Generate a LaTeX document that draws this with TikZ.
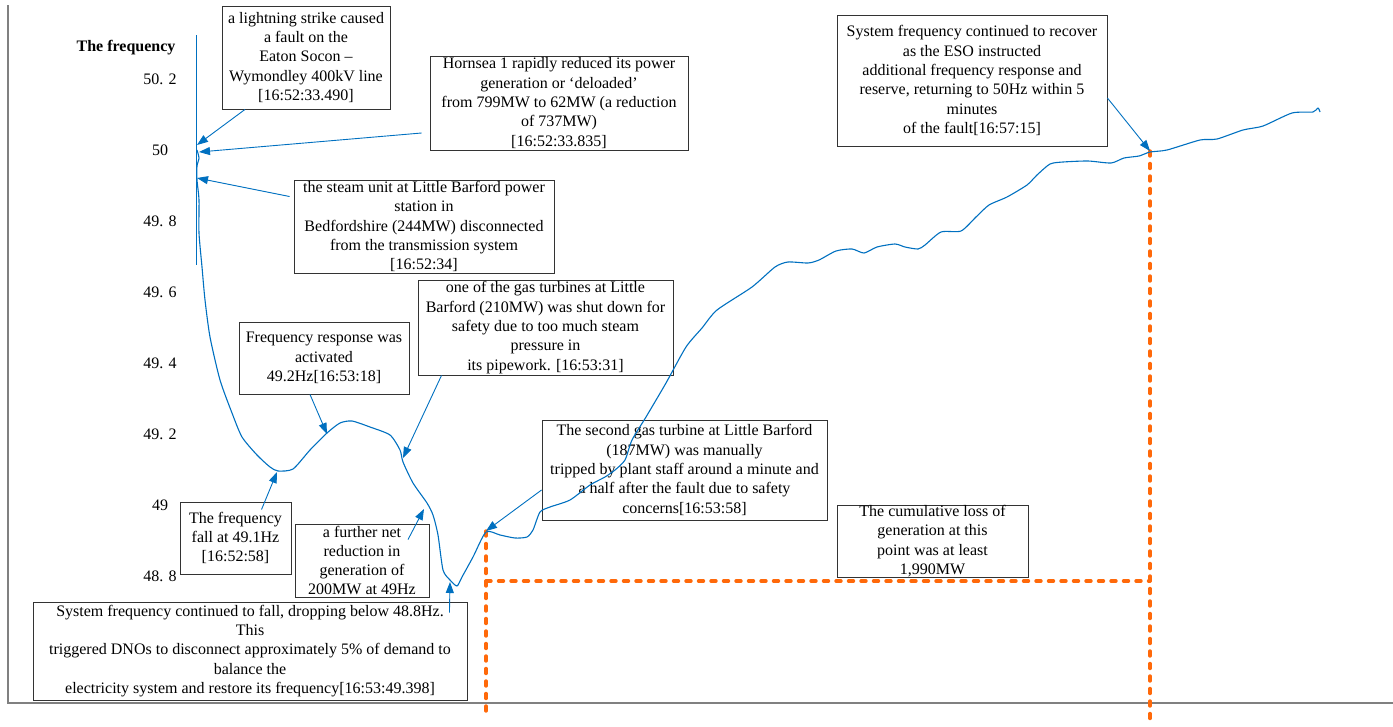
\documentclass[tikz,border=0pt]{standalone}
\usepackage{fontspec}
\setmainfont{Liberation Serif}
\usetikzlibrary{arrows.meta}
\definecolor{curveblue}{RGB}{0,112,192}
\definecolor{cutorange}{RGB}{255,105,10}
\tikzset{
  note/.style={draw=black!80,line width=0.9pt,inner sep=0pt,align=center,
    font=\fontsize{16}{19.3}\selectfont},
  pointer/.style={curveblue,line width=0.9pt,-{Triangle[length=11pt,width=8pt]}},
  cutoff/.style={cutorange,line width=3.4pt,line cap=round,dash pattern=on 5pt off 7.5pt},
  ticklab/.style={font=\fontsize{16}{19}\selectfont}
}
\begin{document}
\begin{tikzpicture}[x=1pt,y=-1pt]
\useasboundingbox (0,0) rectangle (1393,726);

\draw[black!50,line width=1.5pt] (8,5) -- (8,703) -- (1393,703);
\draw[curveblue,line width=1pt] (196,35) -- (196,265);

\draw (126,48) node(YLAB)[font=\fontsize{16}{19}\selectfont\bfseries]{The frequency};
\foreach \v/\y in {50. 2/79,50/150,49. 8/221,49. 6/292,49. 4/363,49. 2/434,49/505,48. 8/576}
  \draw (160,\y) node(TICK-\y)[ticklab]{\v};

\draw (306,57.5) node(LIGHT)[note,minimum width=168pt,minimum height=103pt]{a lightning strike caused\\ a fault on the\\ Eaton Socon –\\ Wymondley 400kV line\\{}[16:52:33.490]};
\draw (559,103) node(HORN)[note,minimum width=258pt,minimum height=94pt]{Hornsea 1 rapidly reduced its power\\ generation or ‘deloaded’\\ from 799MW to 62MW (a reduction\\ of 737MW)\\{}[16:52:33.835]};
\draw (424,226.5) node(STEAM)[note,minimum width=260pt,minimum height=93pt]{the steam unit at Little Barford power\\ station in\\ Bedfordshire (244MW) disconnected\\ from the transmission system\\{}[16:52:34]};
\draw (545.5,327.5) node(GAS)[note,minimum width=255pt,minimum height=95pt]{one of the gas turbines at Little\\ Barford (210MW) was shut down for\\ safety due to too much steam\\ pressure in\\ its pipework. [16:53:31]};
\draw (324,358) node(RESP)[note,minimum width=170pt,minimum height=72pt]{Frequency response was\\ activated\\ 49.2Hz[16:53:18]};
\draw (235.5,538) node(FALL)[note,minimum width=111pt,minimum height=72pt]{The frequency\\ fall at 49.1Hz\\{}[16:52:58]};
\draw (362,560.5) node(NET)[note,minimum width=134pt,minimum height=73pt]{a further net\\ reduction in\\ generation of\\ 200MW at 49Hz};
\draw (250,651) node(DNO)[note,minimum width=434pt,minimum height=98pt]{System frequency continued to fall, dropping below 48.8Hz.\\ This\\ triggered DNOs to disconnect approximately 5\% of demand to\\ balance the\\ electricity system and restore its frequency[16:53:49.398]};
\draw (684.5,470) node(SECOND)[note,minimum width=285pt,minimum height=100pt]{The second gas turbine at Little Barford\\ (187MW) was manually\\ tripped by plant staff around a minute and\\ a half after the fault due to safety\\ concerns[16:53:58]};
\draw (932.5,541) node(LOSS)[note,minimum width=191pt,minimum height=72pt]{The cumulative loss of\\ generation at this\\ point was at least\\ 1,990MW};
\draw (972,80.5) node(RECOV)[note,minimum width=270pt,minimum height=131pt]{System frequency continued to recover\\ as the ESO instructed\\ additional frequency response and\\ reserve, returning to 50Hz within 5\\ minutes\\ of the fault[16:57:15]};

\coordinate (FAULT) at (197,145);
\coordinate (DELOAD) at (199,152);
\coordinate (STEAMOFF) at (197,178);
\coordinate (GASOFF) at (403,458);
\coordinate (RESPON) at (327,434);
\coordinate (DIP) at (277,472);
\coordinate (FURTHER) at (424,509);
\coordinate (LOWEST) at (450,582);
\coordinate (TRIP) at (486,531);
\coordinate (BACK) at (1150,151);

% cumulative loss markers
\draw[cutoff] (TRIP) -- (486,717);
\draw[cutoff] (486,581) -- (1150,581);
\draw[cutoff] (BACK) -- (1150,722);

\draw[curveblue,line width=1.1pt,line join=round] plot[smooth,tension=0.4] coordinates {
 (197,150) (199,158) (197,166) (197,180) (199,200) (199,233) (202,267) (205,300)
 (210,337) (220,380) (232,413) (242,437) (257,455) (270,467) (278,471) (293,469)
 (310,450) (327,433) (340,423) (352,421) (370,427) (390,435) (400,450) (403,462)
 (413,483) (427,503) (433,515) (438,535) (443,570) (450,580) (457,586) (462,577)
 (473,557) (486,532) (500,535) (515,538) (527,537) (533,530) (540,512) (550,507)
 (570,500) (590,485) (605,477) (615,470) (625,460) (632,440) (646,417) (666,383)
 (686,347) (702,328) (717,310) (752,287) (775,267) (788,262) (808,263) (819,260)
 (836,251) (852,249) (864,253) (877,247) (895,244) (905,247) (918,249) (925,245)
 (941,232) (961,231) (976,217) (989,205) (1007,197) (1027,185) (1037,175) (1050,164)
 (1063,162) (1088,161) (1111,163) (1124,158) (1139,156) (1150,152) (1167,150)
 (1200,140) (1217,139) (1243,130) (1263,126) (1292,113) (1313,112) (1318,108) (1320,112)};

\draw[pointer] ([xshift=-61pt]LIGHT.south) -- (FAULT);
\draw[pointer] ([xshift=-8pt,yshift=-30pt]HORN.west) -- (DELOAD);
\draw[pointer] ([xshift=-4pt,yshift=30pt]STEAM.west) -- (STEAMOFF);
\draw[pointer] ([xshift=-104pt]GAS.south) -- (GASOFF);
\draw[pointer] ([xshift=-14pt]RESP.south) -- (RESPON);
\draw[pointer] ([xshift=26pt,yshift=-8pt]FALL.north) -- (DIP);
\draw[pointer] ([xshift=46pt,yshift=-16pt]NET.north) -- (FURTHER);
\draw[pointer] ([xshift=-18pt,yshift=-11pt]DNO.north east) -- (LOWEST);
\draw[pointer] ([yshift=-20pt]SECOND.west) -- (TRIP);
\draw[pointer] ([yshift=-17.5pt]RECOV.east) -- (BACK);

\end{tikzpicture}
\end{document}
